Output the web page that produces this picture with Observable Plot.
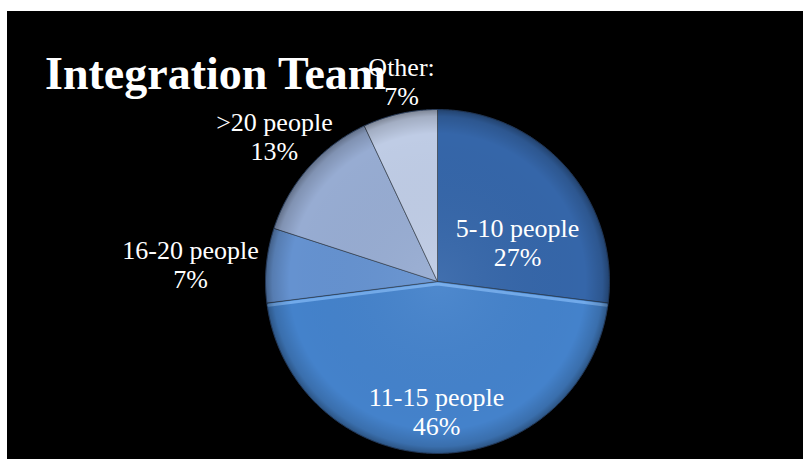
<!DOCTYPE html>
<html><head><meta charset="utf-8">
<script src="https://cdn.jsdelivr.net/npm/d3@7"></script>
<script src="https://cdn.jsdelivr.net/npm/@observablehq/plot@0.6"></script>
<style>
html,body{margin:0;padding:0;background:#fff;}
#wrap{position:relative;width:803px;height:459px;overflow:hidden;}
#chart{position:absolute;left:7px;top:11px;}
#title{position:absolute;left:45px;top:51px;margin:0;font:bold 46px "Liberation Serif","Times New Roman",serif;line-height:46px;color:#fff;white-space:nowrap;}
</style></head>
<body>
<div id="wrap"><div id="chart"></div><div id="title">Integration Team</div></div>
<script>
// ---- data ----
const categories = ["5-10 people", "11-15 people", "16-20 people", ">20 people", "Other:"];
const shares = [27, 46, 7, 13, 7];
const colors = ["#3566a9", "#4482cb", "#6592d0", "#97acd2", "#bfcce5"];
// label anchor layout (unit-circle coordinates)
const labelX = [0.465, -0.006, -1.436, -0.948, -0.209];
const labelY = [0.227, -0.756, 0.099, 0.843, 1.163];

// ---- geometry from values ----
const arcs = d3.pie().sort(null).value(d => d)(shares);
const slicePts = [];
arcs.forEach((a, i) => {
  const cat = categories[i];
  slicePts.push({cat, x: 0, y: 0});
  const n = Math.max(4, Math.ceil((a.endAngle - a.startAngle) / 0.01));
  for (let k = 0; k <= n; k++) {
    const t = a.startAngle + (a.endAngle - a.startAngle) * k / n;
    slicePts.push({cat, x: Math.sin(t), y: Math.cos(t)});
  }
  slicePts.push({cat, x: 0, y: 0});
});
// highlight along the radial edges of the largest slice
const big = arcs[1];
const edgePts = [
  {x: Math.sin(big.startAngle) * 0.99, y: Math.cos(big.startAngle) * 0.99},
  {x: 0, y: 0},
  {x: Math.sin(big.endAngle) * 0.99, y: Math.cos(big.endAngle) * 0.99}
];
const ring = d3.range(0, 361).map(d => ({x: Math.sin(d * Math.PI / 180), y: Math.cos(d * Math.PI / 180)}));
const labels = categories.map((c, i) => ({text: c + "\n" + shares[i] + "%", x: labelX[i], y: labelY[i]}));

const cx = 430, cy = 270, R = 172;
const chart = Plot.plot({
  width: 796, height: 448,
  marginTop: 0, marginRight: 0, marginBottom: 0, marginLeft: 0,
  style: {background: "#000", overflow: "visible"},
  x: {domain: [-1, 1], range: [cx - R, cx + R], axis: null},
  y: {domain: [-1, 1], range: [cy + R, cy - R], axis: null},
  color: {domain: categories, range: colors},
  marks: [
    Plot.line(slicePts, {x: "x", y: "y", z: "cat", fill: "cat", stroke: "#2c3440", strokeOpacity: 0.55, strokeWidth: 1, curve: "linear"}),
    Plot.line(edgePts, {x: "x", y: "y", stroke: "#7db4f2", strokeWidth: 3, strokeOpacity: 0.8, dy: 2.5}),
    Plot.line(ring, {x: "x", y: "y", fill: "url(#rimShade)", stroke: "#1d3a66", strokeOpacity: 0.5, strokeWidth: 1}),
    Plot.text(labels, {x: "x", y: "y", text: "text", fill: "#fff", fontSize: 26, lineHeight: 1.12, lineAnchor: "middle", textAnchor: "middle", fontFamily: "'Liberation Serif','Times New Roman',serif"})
  ]
});
const ns = "http://www.w3.org/2000/svg";
const defs = document.createElementNS(ns, "defs");
defs.innerHTML = '<radialGradient id="rimShade" cx="50%" cy="50%" r="50%">' +
  '<stop offset="0" stop-color="#fff" stop-opacity="0.06"/>' +
  '<stop offset="0.86" stop-color="#000" stop-opacity="0"/>' +
  '<stop offset="0.96" stop-color="#000" stop-opacity="0.15"/>' +
  '<stop offset="1" stop-color="#000" stop-opacity="0.35"/></radialGradient>';
chart.insertBefore(defs, chart.firstChild);
document.getElementById("chart").appendChild(chart);
</script>
</body></html>
